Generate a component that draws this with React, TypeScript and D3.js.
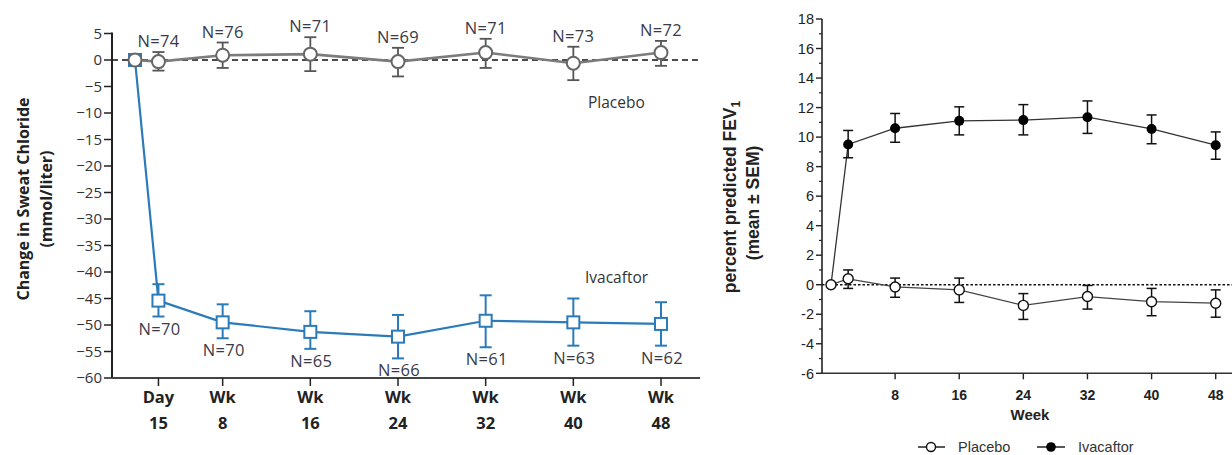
import React from 'react';
import * as d3 from 'd3';

// study visits, in weeks (Day 15 = 15/7 wk)
const weeks = [0, 2.14, 8, 16, 24, 32, 40, 48];
const visitTop = ['', 'Day', 'Wk', 'Wk', 'Wk', 'Wk', 'Wk', 'Wk'];
const visitBottom = ['', '15', '8', '16', '24', '32', '40', '48'];

// sweat chloride, change from baseline (mmol/liter)
const sweatPlacebo = [0, -0.3, 0.9, 1.1, -0.3, 1.4, -0.6, 1.4];
const sweatPlaceboHi = [0, 1.5, 3.3, 4.3, 2.3, 4.0, 2.5, 3.6];
const sweatPlaceboLo = [0, -2.0, -1.5, -2.1, -3.1, -1.5, -3.8, -1.1];
const sweatPlaceboN = [null, 74, 76, 71, 69, 71, 73, 72];

const sweatIva = [0, -45.4, -49.5, -51.3, -52.2, -49.2, -49.5, -49.8];
const sweatIvaHi = [0, -42.3, -46.1, -47.4, -48.1, -44.4, -45.0, -45.7];
const sweatIvaLo = [0, -48.4, -52.5, -54.5, -56.3, -54.2, -53.9, -53.9];
const sweatIvaN = [null, 70, 70, 65, 66, 61, 63, 62];

const sweatTicks = [5, 0, -5, -10, -15, -20, -25, -30, -35, -40, -45, -50, -55, -60];

// percent predicted FEV1, change from baseline
const fevPlacebo = [0, 0.4, -0.15, -0.35, -1.4, -0.8, -1.15, -1.25];
const fevPlaceboHi = [0, 1.0, 0.45, 0.45, -0.6, -0.05, -0.25, -0.35];
const fevPlaceboLo = [0, -0.25, -0.85, -1.2, -2.35, -1.65, -2.1, -2.2];

const fevIva = [0, 9.5, 10.6, 11.1, 11.15, 11.35, 10.55, 9.45];
const fevIvaHi = [0, 10.45, 11.6, 12.05, 12.2, 12.45, 11.5, 10.35];
const fevIvaLo = [0, 8.6, 9.65, 10.15, 10.15, 10.25, 9.55, 8.5];

const fevTicks = [18, 16, 14, 12, 10, 8, 6, 4, 2, 0, -2, -4, -6];
const fevMinor = [17, 15, 13, 11, 9, 7, 5, 3, 1, -1, -3, -5];
const fevWeekTicks = [8, 16, 24, 32, 40, 48];

const BLUE = '#2b7bba';
const LEFT_FONT = '"Open Sans", "Noto Sans", sans-serif';
const RIGHT_FONT = '"Liberation Sans", Arial, sans-serif';

const minus = (v: number) => (v < 0 ? '\u2212' + Math.abs(v) : String(v));

const ErrorBar = ({ x, y1, y2, cap, stroke, width }: any) => (
  <g stroke={stroke} strokeWidth={width} fill="none">
    <line x1={x} x2={x} y1={y1} y2={y2} />
    <line x1={x - cap} x2={x + cap} y1={y1} y2={y1} />
    <line x1={x - cap} x2={x + cap} y1={y2} y2={y2} />
  </g>
);

const SweatPanel = () => {
  const x = d3.scaleLinear().domain([0, 48]).range([135, 661]);
  const y = d3.scaleLinear().domain([-60, 5]).range([378, 33.5]);
  const x0 = 112;
  const x1 = 700;

  const line = d3.line<number>().x((_, i) => x(weeks[i])).y(d => y(d));

  return (
    <g fontFamily={LEFT_FONT}>
      {/* zero reference */}
      <line x1={x0} x2={x1} y1={y(0)} y2={y(0)} stroke="#111" strokeWidth={1.5} strokeDasharray="6,4" />

      {/* axes */}
      <line x1={x0} x2={x0} y1={y(5) - 1} y2={y(-60)} stroke="#222" strokeWidth={2} />
      <line x1={x0} x2={x1} y1={y(-60)} y2={y(-60)} stroke="#444" strokeWidth={2} />
      {sweatTicks.map(t => (
        <g key={t}>
          <line x1={x0 - 8} x2={x0} y1={y(t)} y2={y(t)} stroke="#222" strokeWidth={1.5} />
          <text x={x0 - 10} y={y(t)} dy="0.36em" textAnchor="end" fontSize={15} fill="#333">
            {minus(t)}
          </text>
        </g>
      ))}
      {weeks.slice(1).map((w, j) => (
        <g key={w}>
          <line x1={x(w)} x2={x(w)} y1={y(-60)} y2={y(-60) + 8} stroke="#222" strokeWidth={1.5} />
          <text x={x(w)} y={403} textAnchor="middle" fontSize={16.5} fontWeight="bold" fill="#222">
            {visitTop[j + 1]}
          </text>
          <text x={x(w)} y={429} textAnchor="middle" fontSize={16.5} fontWeight="bold" fill="#222">
            {visitBottom[j + 1]}
          </text>
        </g>
      ))}

      {/* y label */}
      <g transform="translate(29,199) rotate(-90)">
        <text textAnchor="middle" fontSize={16} fontWeight="bold" fill="#222">Change in Sweat Chloride</text>
        <text y={23} textAnchor="middle" fontSize={16} fontWeight="bold" fill="#222">(mmol/liter)</text>
      </g>

      {/* ivacaftor */}
      <path d={line(sweatIva) || ''} fill="none" stroke={BLUE} strokeWidth={2.2} />
      {weeks.map((w, i) =>
        i === 0 ? null : (
          <ErrorBar key={w} x={x(w)} y1={y(sweatIvaHi[i])} y2={y(sweatIvaLo[i])} cap={6} stroke={BLUE} width={2} />
        )
      )}
      {weeks.map((w, i) => (
        <rect key={w} x={x(w) - 6} y={y(sweatIva[i]) - 6} width={12} height={12} fill="#fff" stroke={BLUE} strokeWidth={2} />
      ))}
      {weeks.map((w, i) =>
        sweatIvaN[i] == null ? null : (
          <text key={w} x={x(w) + 1} y={y(sweatIvaLo[i]) + 18} textAnchor="middle" fontSize={16.5} fill="#3a3a48" letterSpacing={0.3}>
            N={sweatIvaN[i]}
          </text>
        )
      )}

      {/* placebo */}
      <path d={line(sweatPlacebo) || ''} fill="none" stroke="#7c7c7c" strokeWidth={2.6} />
      {weeks.map((w, i) =>
        i === 0 ? null : (
          <ErrorBar key={w} x={x(w)} y1={y(sweatPlaceboHi[i])} y2={y(sweatPlaceboLo[i])} cap={6} stroke="#555" width={1.8} />
        )
      )}
      {weeks.map((w, i) => (
        <circle key={w} cx={x(w)} cy={y(sweatPlacebo[i])} r={6.5} fill="#fff" stroke="#666" strokeWidth={2} />
      ))}
      {weeks.map((w, i) =>
        sweatPlaceboN[i] == null ? null : (
          <text key={w} x={x(w)} y={y(sweatPlaceboHi[i]) - 5} textAnchor="middle" fontSize={16.5} fill="#3a3a48" letterSpacing={0.3}>
            N={sweatPlaceboN[i]}
          </text>
        )
      )}

      <text x={588} y={108} fontSize={15.5} fill="#333">Placebo</text>
      <text x={585} y={283} fontSize={15.5} fill="#333">Ivacaftor</text>
    </g>
  );
};

const FevPanel = () => {
  const x = d3.scaleLinear().domain([0, 48]).range([831, 1215.7]);
  const y = d3.scaleLinear().domain([-6, 18]).range([373.3, 19]);
  const x0 = 822;
  const x1 = 1232;

  const line = d3.line<number>().x((_, i) => x(weeks[i])).y(d => y(d));

  return (
    <g fontFamily={RIGHT_FONT}>
      <line x1={x0} x2={x1} y1={y(0)} y2={y(0)} stroke="#111" strokeWidth={1.3} strokeDasharray="2.5,2" />

      <line x1={x0} x2={x0} y1={y(18)} y2={y(-6)} stroke="#222" strokeWidth={1.6} />
      <line x1={x0} x2={x1} y1={y(-6)} y2={y(-6)} stroke="#333" strokeWidth={1.6} />
      {fevTicks.map(t => (
        <g key={t}>
          <line x1={x0 - 6} x2={x0} y1={y(t)} y2={y(t)} stroke="#222" strokeWidth={1.4} />
          <text x={x0 - 8} y={y(t)} dy="0.36em" textAnchor="end" fontSize={14.5} fill="#222">
            {t}
          </text>
        </g>
      ))}
      {fevMinor.map(t => (
        <line key={t} x1={x0 - 3} x2={x0} y1={y(t)} y2={y(t)} stroke="#222" strokeWidth={1.2} />
      ))}
      {fevWeekTicks.map(t => (
        <g key={t}>
          <line x1={x(t)} x2={x(t)} y1={y(-6)} y2={y(-6) + 6} stroke="#222" strokeWidth={1.4} />
          <text x={x(t)} y={400} textAnchor="middle" fontSize={14} fontWeight="bold" fill="#222">
            {t}
          </text>
        </g>
      ))}
      <text x={1030} y={420} textAnchor="middle" fontSize={15} fontWeight="bold" fill="#222">Week</text>

      <g transform="translate(736,197) rotate(-90)">
        <text textAnchor="middle" fontSize={17.5} fontWeight="bold" fill="#222">
          percent predicted FEV<tspan fontSize={12} dy={4}>1</tspan>
        </text>
        <text y={23} dx={-6} textAnchor="middle" fontSize={17.5} fontWeight="bold" fill="#222">(mean ± SEM)</text>
      </g>

      {/* ivacaftor */}
      <path d={line(fevIva) || ''} fill="none" stroke="#333" strokeWidth={1.3} />
      {weeks.map((w, i) =>
        i === 0 ? null : (
          <ErrorBar key={w} x={x(w)} y1={y(fevIvaHi[i])} y2={y(fevIvaLo[i])} cap={5} stroke="#111" width={1.5} />
        )
      )}
      {weeks.map((w, i) => (i === 0 ? null : <circle key={w} cx={x(w)} cy={y(fevIva[i])} r={5} fill="#000" />))}

      {/* placebo */}
      <path d={line(fevPlacebo) || ''} fill="none" stroke="#444" strokeWidth={1.3} />
      {weeks.map((w, i) =>
        i === 0 ? null : (
          <ErrorBar key={w} x={x(w)} y1={y(fevPlaceboHi[i])} y2={y(fevPlaceboLo[i])} cap={5} stroke="#111" width={1.5} />
        )
      )}
      {weeks.map((w, i) => (
        <circle key={w} cx={x(w)} cy={y(fevPlacebo[i])} r={5} fill="#fff" stroke="#111" strokeWidth={1.4} />
      ))}

      {/* legend */}
      <g fontSize={14.5} fill="#333">
        <line x1={918} x2={945} y1={447} y2={447} stroke="#111" strokeWidth={1.4} />
        <circle cx={931} cy={447} r={4.5} fill="#fff" stroke="#111" strokeWidth={1.4} />
        <text x={958} y={452}>Placebo</text>
        <line x1={1037} x2={1065} y1={447} y2={447} stroke="#111" strokeWidth={1.4} />
        <circle cx={1051} cy={447} r={4.8} fill="#000" />
        <text x={1078} y={452}>Ivacaftor</text>
      </g>
    </g>
  );
};

export default function App() {
  return (
    <svg
      width={1232}
      height={455}
      style={{ position: 'absolute', left: 0, top: 0, background: '#fff' }}
    >
      <SweatPanel />
      <FevPanel />
    </svg>
  );
}
